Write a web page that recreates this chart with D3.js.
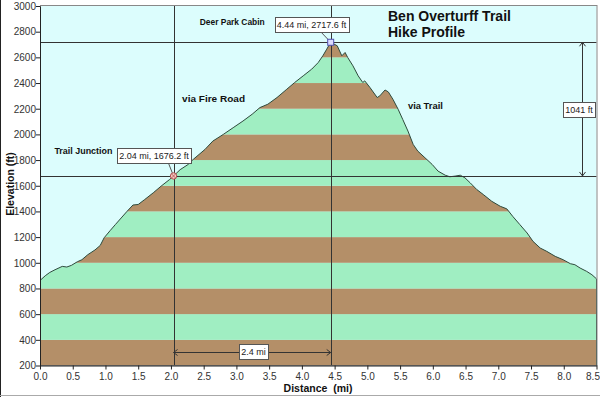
<!DOCTYPE html>
<html><head><meta charset="utf-8">
<script src="https://cdn.jsdelivr.net/npm/d3@7"></script>
<style>
html,body{margin:0;padding:0;background:#fff;}
svg{display:block;font-family:"Liberation Sans",Arial,sans-serif;}
</style></head>
<body><svg id="c" width="600" height="397"></svg>
<script>
// ---- data ----
const distances = [0.00,0.08,0.15,0.23,0.34,0.41,0.48,0.57,0.64,0.73,0.84,0.92,0.98,1.07,1.15,1.24,1.33,1.42,1.50,1.60,1.73,1.85,1.98,2.04,2.14,2.26,2.34,2.52,2.64,2.80,2.95,3.10,3.24,3.36,3.48,3.62,3.77,3.89,4.02,4.15,4.25,4.32,4.38,4.44,4.54,4.61,4.66,4.70,4.78,4.86,4.93,4.96,5.04,5.15,5.19,5.27,5.32,5.39,5.47,5.54,5.62,5.70,5.77,5.88,5.99,6.08,6.19,6.26,6.34,6.42,6.49,6.57,6.67,6.77,6.90,7.03,7.13,7.22,7.33,7.44,7.53,7.64,7.74,7.87,7.99,8.10,8.17,8.25,8.35,8.43,8.50];
const elevations = [862,899,925,946,972,967,980,1008,1024,1063,1100,1135,1195,1250,1297,1349,1401,1450,1454,1493,1545,1597,1649,1676.2,1725,1765,1805,1883,1948,2000,2052,2104,2157,2209,2235,2287,2352,2404,2456,2508,2560,2612,2664,2717.6,2690,2612,2638,2599,2534,2456,2404,2417,2365,2287,2300,2346,2331,2274,2196,2117,2026,1922,1870,1818,1766,1714,1682,1670,1675,1682,1662,1623,1571,1532,1479,1440,1420,1362,1297,1232,1167,1115,1089,1050,1024,993,985,959,933,907,875];
const xTicks = [0,0.5,1,1.5,2,2.5,3,3.5,4,4.5,5,5.5,6,6.5,7,7.5,8,8.5];
const yTicks = [200,400,600,800,1000,1200,1400,1600,1800,2000,2200,2400,2600,2800,3000];
const bandEdges = [200,400,600,800,1000,1200,1400,1600,1800,2000,2200,2400,2600,2800,3000];
const junction = [2.04, 1676.2];
const summit = [4.44, 2717.6];
const gainLabel = "1041 ft";
const distLabel = "2.4 mi";
const titleLines = ["Ben Overturff Trail","Hike Profile"];
const placeNames = ["Deer Park Cabin","via Fire Road","via Trail","Trail Junction"];

const profile = distances.map((d,i)=>({d, e:elevations[i]}));
const svg = d3.select("#c");
const x = d3.scaleLinear().domain([0,8.5]).range([40,596.5]);
const y = d3.scaleLinear().domain([200,3000]).range([365.5,6]);

// plot background
svg.append("rect").attr("x",x(0)).attr("y",y(3000)).attr("width",x(8.5)-x(0)).attr("height",y(200)-y(3000)).attr("fill","#dcfdfd");

// clip from area
const area = d3.area().x(p=>x(p.d)).y0(y(200)).y1(p=>y(p.e));
svg.append("clipPath").attr("id","clipA").append("path").attr("d",area(profile));
const bands = d3.pairs(bandEdges).map((b,i)=>({lo:b[0],hi:b[1],i}));
svg.append("g").attr("clip-path","url(#clipA)").selectAll("rect").data(bands).join("rect")
  .attr("x",x(0)).attr("width",x(8.5)-x(0))
  .attr("y",b=>y(b.hi)).attr("height",b=>y(b.lo)-y(b.hi))
  .attr("fill",b=>b.i%2===0?"#b48f68":"#a0eec2");

// profile line
svg.append("path").attr("d",d3.line().x(p=>x(p.d)).y(p=>y(p.e))(profile))
  .attr("fill","none").attr("stroke","#2e4a3c").attr("stroke-width",1);
svg.append("line").attr("x1",x(8.5)).attr("x2",x(8.5)).attr("y1",y(elevations[elevations.length-1])).attr("y2",y(200)).attr("stroke","#2e4a3c");

// crosshair lines
const lc="#333";
[junction,summit].forEach(p=>{
  svg.append("line").attr("x1",Math.round(x(p[0]))+0.5).attr("x2",Math.round(x(p[0]))+0.5).attr("y1",y(3000)).attr("y2",y(200)).attr("stroke",lc).attr("stroke-width",1);
  svg.append("line").attr("x1",x(0)).attr("x2",x(8.5)).attr("y1",Math.round(y(p[1]))+0.5).attr("y2",Math.round(y(p[1]))+0.5).attr("stroke",lc).attr("stroke-width",1);
});

// frame
svg.append("rect").attr("x",x(0)+0.5).attr("y",y(3000)-0.5).attr("width",x(8.5)-x(0)).attr("height",y(200)-y(3000)+0.5)
  .attr("fill","none").attr("stroke","#888").attr("stroke-width",1);

// axes
const gx = svg.append("g").attr("transform",`translate(0,${y(200)})`)
  .call(d3.axisBottom(x).tickValues(xTicks).tickFormat(d3.format(".1f")).tickSize(4).tickSizeOuter(0));
const gy = svg.append("g").attr("transform",`translate(${x(0)},0)`)
  .call(d3.axisLeft(y).tickValues(yTicks).tickFormat(d3.format("d")).tickSize(4).tickSizeOuter(0));
[gx,gy].forEach(g=>{
  g.select(".domain").attr("stroke","#222");
  g.selectAll(".tick line").attr("stroke","#222");
  g.selectAll("text").attr("font-size","10px").attr("fill","#333").attr("font-family","\"Liberation Sans\",Arial,sans-serif");
});
gx.selectAll("text").attr("dy","0.71em").attr("dx",d=>d===8.5?-4:0);
gy.selectAll("text").attr("dy","0.33em").attr("x",-4);

// axis titles
svg.append("text").attr("x",318).attr("y",392).attr("text-anchor","middle").attr("font-size","10.5px").attr("font-weight","bold").attr("fill","#111")
  .attr("xml:space","preserve").text("Distance  (mi)");
svg.append("text").attr("transform","translate(14,184) rotate(-90)").attr("text-anchor","middle").attr("font-size","10.5px").attr("font-weight","bold").attr("fill","#111").text("Elevation (ft)");

// title
titleLines.forEach((t,i)=>svg.append("text").attr("x",388).attr("y",21+i*16).attr("font-size","14px").attr("font-weight","bold").attr("fill","#111").text(t));

// place labels (anchored in data coordinates)
const placePos = [[2.44,2852,65],[2.17,2252,63],[5.62,2200,35],[0.22,1850,58]];
placeNames.forEach((t,i)=>{
  const p = placePos[i];
  svg.append("text").attr("x",x(p[0])).attr("y",y(p[1])).attr("font-size","9.5px").attr("font-weight","bold").attr("fill","#111")
    .attr("textLength",p[2]).attr("lengthAdjust","spacingAndGlyphs").text(t);
});

// value boxes
function box(cx, cy, txt){
  const g = svg.append("g");
  const t = g.append("text").attr("x",cx).attr("y",cy).attr("text-anchor","middle").attr("dy","0.35em")
    .attr("font-size","9px").attr("fill","#222").text(txt);
  const bb = t.node().getBBox();
  g.insert("rect","text").attr("x",Math.round(bb.x-2)+0.5).attr("y",Math.round(cy-8)+0.5).attr("width",Math.round(bb.width+4)).attr("height",15)
    .attr("fill","#fff").attr("stroke","#555");
  return g;
}
// leader lines
svg.append("line").attr("x1",320).attr("y1",31).attr("x2",x(summit[0])).attr("y2",y(summit[1])).attr("stroke","#555");
svg.append("line").attr("x1",168).attr("y1",162).attr("x2",x(junction[0])).attr("y2",y(junction[1])).attr("stroke","#555");
box(311.5, 24.5, `${summit[0]} mi, ${summit[1]} ft`);
box(154, 155.5, `${junction[0]} mi, ${junction[1]} ft`);

// markers
svg.append("rect").attr("x",x(summit[0])-3).attr("y",y(summit[1])-3).attr("width",6).attr("height",6).attr("fill","#dcdcff").attr("stroke","#5050b0");
svg.append("circle").attr("cx",x(junction[0])).attr("cy",y(junction[1])).attr("r",3.2).attr("fill","#f5c8c0").attr("stroke","#b05050");
svg.append("path").attr("d",`M${x(junction[0])-2},${y(junction[1])-2}L${x(junction[0])+2},${y(junction[1])+2}M${x(junction[0])-2},${y(junction[1])+2}L${x(junction[0])+2},${y(junction[1])-2}`).attr("stroke","#b05050").attr("stroke-width",0.8);

// dimension arrows
function arrowHead(x0,y0,dx,dy){
  const px=-dy, py=dx;
  svg.append("path").attr("d",`M${x0-dx*4+px*3},${y0-dy*4+py*3}L${x0},${y0}L${x0-dx*4-px*3},${y0-dy*4-py*3}`)
    .attr("fill","none").attr("stroke","#333");
}
const ax = 582.5;
svg.append("line").attr("x1",ax).attr("x2",ax).attr("y1",y(summit[1])).attr("y2",y(junction[1])).attr("stroke","#333");
arrowHead(ax,y(summit[1]),0,-1);
arrowHead(ax,y(junction[1]),0,1);
box(579, 109.5, gainLabel);
const ay = 352.5;
svg.append("line").attr("x1",x(junction[0])).attr("x2",x(summit[0])).attr("y1",ay).attr("y2",ay).attr("stroke","#333");
arrowHead(x(junction[0]),ay,-1,0);
arrowHead(x(summit[0]),ay,1,0);
box(253.5, 351.5, distLabel);

// outer borders
svg.append("line").attr("x1",0.5).attr("x2",0.5).attr("y1",0).attr("y2",397).attr("stroke","#222");
svg.append("line").attr("x1",0).attr("x2",600).attr("y1",395.5).attr("y2",395.5).attr("stroke","#aaa");
</script></body></html>
